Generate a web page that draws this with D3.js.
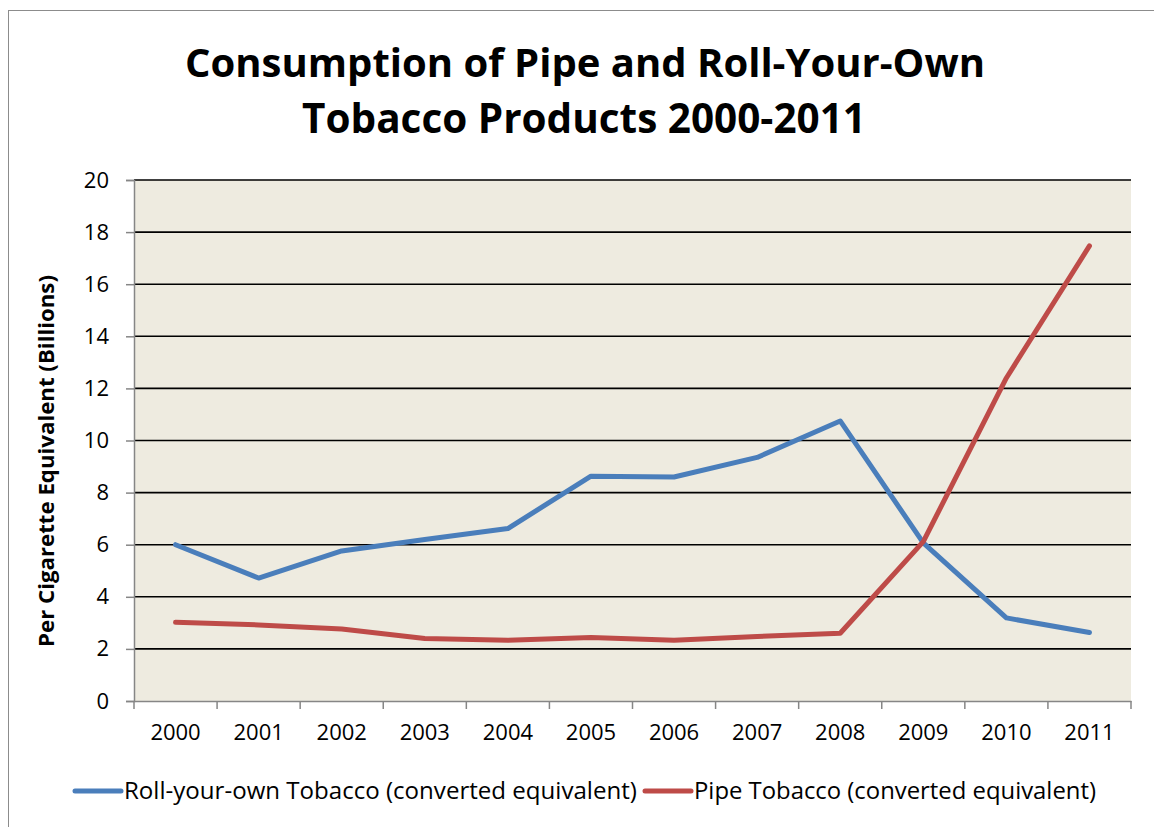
<!DOCTYPE html>
<html><head><meta charset="utf-8">
<script src="https://cdn.jsdelivr.net/npm/d3@7"></script>
<style>body{margin:0;background:#fff;} svg{display:block;font-family:"Open Sans",Lato,sans-serif;}</style>
</head><body>
<svg id="c" width="1154" height="827"></svg>
<script>
const years = ["2000","2001","2002","2003","2004","2005","2006","2007","2008","2009","2010","2011"];
const rollYourOwn = [6.0, 4.72, 5.76, 6.2, 6.62, 8.63, 8.6, 9.35, 10.75, 6.07, 3.19, 2.63];
const pipeTobacco = [3.02, 2.92, 2.76, 2.4, 2.33, 2.44, 2.33, 2.48, 2.6, 6.12, 12.4, 17.47];
const yTicks = [0,2,4,6,8,10,12,14,16,18,20];
const seriesNames = ["Roll-your-own Tobacco (converted equivalent)", "Pipe Tobacco (converted equivalent)"];
const colors = ["#4a7ebb", "#be4b48"];
const FONT = "'Open Sans',Lato,sans-serif";

const svg = d3.select("#c");
function fit(sel, target){
  const w = sel.node().getComputedTextLength();
  const fs = parseFloat(sel.attr("font-size"));
  sel.attr("font-size", (fs*target/w).toFixed(2));
}
// outer border
svg.append("rect").attr("x",8.5).attr("y",10.5).attr("width",1160).attr("height",830)
  .attr("fill","none").attr("stroke","#8c8c8c").attr("stroke-width",1);

const L=134, R=1131, T=180, B=701;
const x = d3.scaleBand().domain(years).range([L,R]);
const y = d3.scaleLinear().domain([0,20]).range([B,T]);

svg.append("rect").attr("x",L).attr("y",T).attr("width",R-L).attr("height",B-T).attr("fill","#eeebe0");

// gridlines
svg.append("g").selectAll("line").data(yTicks.filter(d=>d>0)).join("line")
  .attr("x1",L).attr("x2",R).attr("y1",d=>y(d)).attr("y2",d=>y(d))
  .attr("stroke","#000").attr("stroke-width",1.6);

// y axis
const ya = svg.append("g").attr("transform",`translate(${L},0)`)
  .call(d3.axisLeft(y).tickValues(yTicks).tickSize(8).tickPadding(17));
ya.select(".domain").attr("stroke","#868686").attr("stroke-width",1.5);
ya.selectAll(".tick line").attr("stroke","#868686").attr("stroke-width",1.5);
ya.selectAll("text").attr("font-size",22).attr("fill","#000").attr("font-family",FONT);

// x axis
const xa = svg.append("g").attr("transform",`translate(0,${B})`)
  .call(d3.axisBottom(x).tickSize(0).tickPadding(23));
xa.select(".domain").attr("stroke","#868686").attr("stroke-width",1.5);
xa.selectAll("text").attr("font-size",22).attr("fill","#000").attr("font-family",FONT);
const bounds = years.map(d=>x(d)).concat([R]);
xa.selectAll(".bt").data(bounds).join("line").attr("class","bt")
  .attr("x1",d=>d).attr("x2",d=>d).attr("y1",0).attr("y2",8)
  .attr("stroke","#868686").attr("stroke-width",1.5);

// lines
const line = d3.line().x((d,i)=>x(years[i])+x.bandwidth()/2).y(d=>y(d));
[rollYourOwn, pipeTobacco].forEach((s,k)=>{
  svg.append("path").datum(s).attr("d",line).attr("fill","none")
    .attr("stroke",colors[k]).attr("stroke-width",5).attr("stroke-linecap","round").attr("stroke-linejoin","round");
});

// title
const t1 = svg.append("text").attr("x",585).attr("y",77).attr("text-anchor","middle")
  .attr("font-weight","bold").attr("font-size",40).attr("fill","#000").text("Consumption of Pipe and Roll-Your-Own");
fit(t1, 800);
const t2 = svg.append("text").attr("x",584).attr("y",133).attr("text-anchor","middle")
  .attr("font-weight","bold").attr("font-size",40).attr("fill","#000").text("Tobacco Products 2000-2011");
fit(t2, 564);

// y label
const yl = svg.append("text").attr("transform","translate(54,461) rotate(-90)").attr("text-anchor","middle")
  .attr("font-weight","bold").attr("font-size",19).attr("fill","#000")
  .text("Per Cigarette Equivalent (Billions)");
fit(yl, 372);

// legend
const legX = [73, 643];
const legW = [513, 402];
seriesNames.forEach((n,k)=>{
  svg.append("line").attr("x1",legX[k]+2).attr("x2",legX[k]+48).attr("y1",791).attr("y2",791)
    .attr("stroke",colors[k]).attr("stroke-width",5).attr("stroke-linecap","round");
  const tx = svg.append("text").attr("x",legX[k]+51).attr("y",799).attr("font-size",20).attr("fill","#000").text(n);
  fit(tx, legW[k]);
});
</script>
</body></html>
